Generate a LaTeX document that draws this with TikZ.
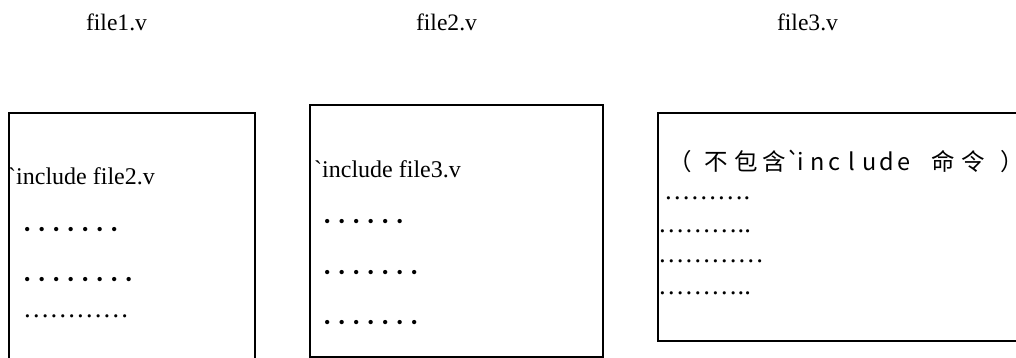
\documentclass[tikz,border=0pt]{standalone}
\usepackage{fontspec}
\setmainfont{Liberation Serif}[Ligatures=TeXOff]
\newfontfamily\cjkfont{Noto Sans CJK SC}
\newfontfamily\bulletfont{Liberation Serif}[LetterSpace=45.6]
% place one glyph centred at a given offset (pt) from the node origin
\newcommand\putch[2]{\rlap{\hspace*{#1pt}\makebox[0pt][c]{#2}}}
\begin{document}
\begin{tikzpicture}[x=1pt,y=-1pt,
  filebox/.style={draw, line width=1.6pt, inner sep=0pt, anchor=north west},
  lbl/.style={inner sep=0pt, anchor=base, font=\fontsize{23.6}{28}\selectfont},
  codeline/.style={inner sep=0pt, anchor=base west, font=\fontsize{24}{28}\selectfont},
  bigdots/.style={inner sep=0pt, anchor=base west, font=\bulletfont\fontsize{18}{20}\selectfont},
  smalldots/.style={inner sep=0pt, anchor=base west, font=\fontsize{26.5}{30}\selectfont},
  cjkline/.style={inner sep=0pt, anchor=base west, font=\cjkfont\fontsize{23.5}{27}\selectfont}]
\useasboundingbox (0,0) rectangle (1016,358);
% labels
\node[lbl] (l1) at (116.5,31) {file1.v};
\node[lbl] (l2) at (446.5,31) {file2.v};
\node[lbl] (l3) at (807.5,31) {file3.v};
% boxes
\node[filebox, minimum width=246pt, minimum height=260pt] (box1) at (8,112) {};
\node[filebox, minimum width=293pt, minimum height=252pt] (box2) at (309,104) {};
\node[filebox, minimum width=380pt, minimum height=228pt] (box3) at (657,112) {};
% box 1 content
\node[codeline] (b1t) at (8,185) {`include file2.v};
\node[bigdots] (b1d1) at (24,235) {•••••••};
\node[bigdots] (b1d2) at (24,285) {••••••••};
\node[smalldots] (b1d3) at (23,317.5) {…………};
% box 2 content
\node[codeline] (b2t) at (314,178) {`include file3.v};
\node[bigdots] (b2d1) at (324,227) {••••••};
\node[bigdots] (b2d2) at (324,278) {•••••••};
\node[bigdots] (b2d3) at (324,328) {•••••••};
% box 3 content
\node[cjkline] (b3t) at (660,171) {\putch{20}{（}\putch{56}{不}\putch{86}{包}\putch{114}{含}\putch{132.5}{`}\putch{140}{i}\putch{157.2}{n}\putch{174.3}{c}\putch{191.5}{l}\putch{208.7}{u}\putch{225.8}{d}\putch{243}{e}\putch{283}{命}\putch{313}{令}\putch{352}{）}};
\node[smalldots] (b3d1) at (664,199.5) {……….};
\node[smalldots] (b3d2) at (658,232.5) {………..};
\node[smalldots] (b3d3) at (658,262.5) {…………};
\node[smalldots] (b3d4) at (658,294) {………..};
\end{tikzpicture}
\end{document}
